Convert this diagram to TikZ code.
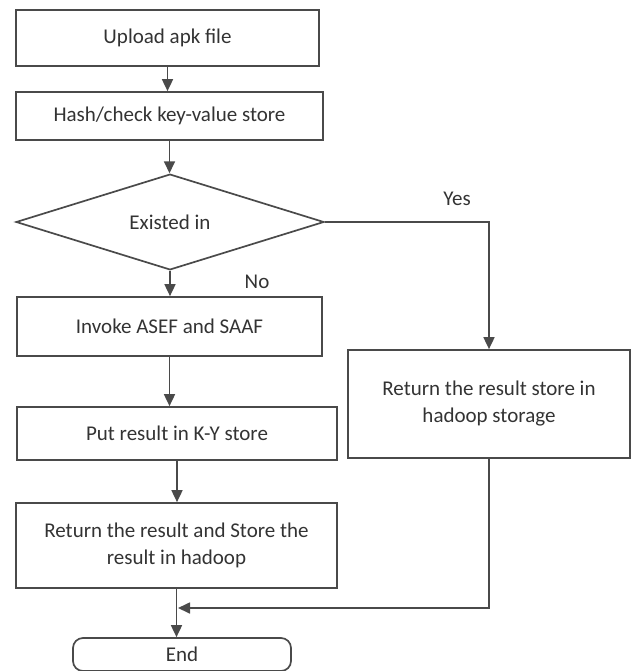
\documentclass[tikz,border=0pt]{standalone}
\usepackage{fontspec}
\setmainfont{Carlito}
\usetikzlibrary{shapes.geometric,arrows.meta}
\definecolor{linegray}{HTML}{4A4A4A}
\definecolor{textgray}{HTML}{333333}
\begin{document}
\begin{tikzpicture}[x=1pt,y=-1pt, line width=1.7pt,
box_style/.style={rectangle,draw=linegray,inner sep=0pt,align=center,text=textgray,font=\fontsize{21}{27}\selectfont},
dec_style/.style={diamond,draw=linegray,inner sep=0pt,text=textgray,font=\fontsize{21}{27}\selectfont},
end_style/.style={box_style,rounded corners=10pt},
arrow_style/.style={draw=linegray,-{Triangle[width=11pt,length=12pt]}},
label_style/.style={text=textgray,font=\fontsize{21}{27}\selectfont}]
\useasboundingbox (0,0) rectangle (634,671);
\node[box_style,minimum width=303pt,minimum height=56pt] (upload) at (167.5,38) {Upload apk file};
\node[box_style,minimum width=307pt,minimum height=48pt] (hash) at (169.5,116) {Hash/check key-value store};
\node[dec_style,minimum width=308pt,minimum height=83pt] (exist) at (170,222) {Existed in};
\node[box_style,minimum width=305pt,minimum height=59pt] (invoke) at (169.5,326.5) {Invoke ASEF and SAAF};
\node[box_style,minimum width=320pt,minimum height=53pt] (put) at (177,433.5) {Put result in K-Y store};
\node[box_style,minimum width=321pt,minimum height=85pt] (ret) at (176.5,545.5) {Return the result and Store the\\result in hadoop};
\node[box_style,minimum width=282pt,minimum height=108pt] (hdp) at (489,404) {Return the result store in\\hadoop storage};
\node[end_style,minimum width=218pt,minimum height=33pt] (end) at (182,654.5) {End};
\node[label_style] (yes) at (457,199) {Yes};
\node[label_style] (no) at (257,282) {No};
\coordinate (join) at (178,608);
\draw[arrow_style] (upload) -- (upload |- hash.north);
\draw[arrow_style] (hash) -- (hash |- exist.north);
\draw[arrow_style] (exist) -- (exist |- invoke.north);
\draw[arrow_style] (exist.east) -| (hdp.north);
\draw[arrow_style] (invoke) -- (invoke |- put.north);
\draw[arrow_style] (put) -- (put |- ret.north);
\draw[arrow_style] (ret) -- (ret |- end.north);
\draw[arrow_style] (hdp.south) |- (join);
\end{tikzpicture}
\end{document}
